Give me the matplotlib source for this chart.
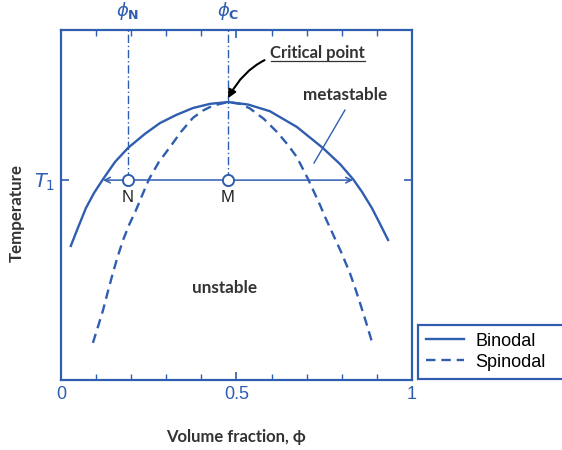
import matplotlib.pyplot as plt
from matplotlib.lines import Line2D

# curves (volume fraction, temperature in axis units 0..1)
binodal_x = [0.028, 0.048, 0.071, 0.094, 0.120, 0.154, 0.191, 0.239, 0.282, 0.328, 0.376,
             0.425, 0.476, 0.533, 0.595, 0.672, 0.746, 0.795, 0.832, 0.858, 0.886, 0.909,
             0.932]
binodal_y = [0.383, 0.434, 0.491, 0.534, 0.574, 0.623, 0.663, 0.703, 0.734, 0.757, 0.777,
             0.789, 0.794, 0.787, 0.768, 0.723, 0.663, 0.617, 0.574, 0.537, 0.491, 0.446,
             0.400]

spinodal_x = [0.091, 0.105, 0.120, 0.134, 0.148, 0.162, 0.177, 0.194, 0.214, 0.231, 0.251,
              0.279, 0.311, 0.342, 0.376, 0.405, 0.433, 0.476, 0.510, 0.538, 0.578, 0.618,
              0.647, 0.672, 0.704, 0.738, 0.755, 0.772, 0.798, 0.823, 0.838, 0.852, 0.869,
              0.886]
spinodal_y = [0.106, 0.151, 0.200, 0.254, 0.306, 0.354, 0.400, 0.443, 0.486, 0.527, 0.574,
              0.623, 0.666, 0.709, 0.749, 0.770, 0.784, 0.794, 0.789, 0.776, 0.746, 0.706,
              0.671, 0.637, 0.574, 0.500, 0.460, 0.423, 0.366, 0.306, 0.263, 0.220, 0.166,
              0.109]

T1 = 0.571
phi_N = 0.191
phi_C = 0.476
bin_left = 0.120    # binodal crossing at T1
bin_right = 0.832
x_ticks = [0, 0.5, 1]
x_ticklabels = ['0', '0.5', '1']

blue = '#2f5db0'
grey = '#333333'
bold_font = 'Lato'

fig = plt.figure(figsize=(5.62, 4.5), dpi=100)
ax = fig.add_axes([0.1085, 0.1556, 0.6245, 0.7778])

ax.plot(binodal_x, binodal_y, color=blue, lw=1.7, label='Binodal', solid_joinstyle='round')
ax.plot(spinodal_x, spinodal_y, color=blue, lw=1.7, ls=(0, (4, 2.5)), label='Spinodal')

# vertical dash-dot guides
ax.plot([phi_N, phi_N], [T1, 1], color=blue, lw=1, ls=(0, (6, 2, 1, 2)), clip_on=False)
ax.plot([phi_C, phi_C], [T1, 1], color=blue, lw=1, ls=(0, (6, 2, 1, 2)), clip_on=False)

# T1 line with arrows to the binodal
ax.plot([phi_N, phi_C], [T1, T1], color=blue, lw=1.1)
ax.annotate('', xy=(bin_left, T1), xytext=(phi_N, T1),
            arrowprops=dict(arrowstyle='->', color=blue, lw=1.1, shrinkA=0, shrinkB=0))
ax.annotate('', xy=(bin_right, T1), xytext=(phi_C, T1),
            arrowprops=dict(arrowstyle='->', color=blue, lw=1.1, shrinkA=0, shrinkB=0))
ax.plot([phi_N, phi_C], [T1, T1], 'o', ms=8, mfc='white', mec=blue, mew=1.4, zorder=5)
ax.text(phi_N, T1 - 0.027, 'N', ha='center', va='top', fontsize=12,
        family='Liberation Sans', color='#222222')
ax.text(phi_C, T1 - 0.027, 'M', ha='center', va='top', fontsize=12,
        family='Liberation Sans', color='#222222')

# labels above the frame
ax.text(phi_N, 1.022, r'$\phi_\mathbf{N}$', ha='center', va='bottom', fontsize=13, color=blue)
ax.text(phi_C, 1.022, r'$\phi_\mathbf{C}$', ha='center', va='bottom', fontsize=13, color=blue)

# critical point annotation
ax.annotate('Critical point', xy=(phi_C, 0.805), xytext=(0.595, 0.934),
            ha='left', va='center', fontsize=12, fontweight='bold', family=bold_font,
            color=grey,
            arrowprops=dict(arrowstyle='-|>', color='black', lw=1.5, shrinkA=2, shrinkB=0,
                            connectionstyle='arc3,rad=0.35', mutation_scale=12))
ax.plot([0.598, 0.866], [0.911, 0.911], color=grey, lw=0.9)

ax.text(0.809, 0.815, 'metastable', ha='center', va='center', fontsize=12.3,
        fontweight='bold', family=bold_font, color=grey)
ax.plot([0.809, 0.721], [0.771, 0.620], color=blue, lw=1)

ax.text(0.467, 0.263, 'unstable', ha='center', va='center', fontsize=12.3,
        fontweight='bold', family=bold_font, color=grey)

ax.set_xlim(0, 1)
ax.set_ylim(0, 1)
ax.set_xticks(x_ticks)
ax.set_xticklabels(x_ticklabels, family='Liberation Sans', fontsize=13, color=blue)
ax.set_xticks([0.1 * i for i in range(1, 10)], minor=True)
ax.set_yticks([T1])
ax.set_yticklabels(['$T_1$'], fontsize=14, color=blue)
ax.tick_params(axis='x', which='both', direction='in', top=True, color=blue, pad=4)
ax.tick_params(axis='x', which='major', length=6, width=1.2)
ax.tick_params(axis='x', which='minor', length=4, width=1)
ax.tick_params(axis='y', direction='in', right=True, color=blue, length=6, width=1.2, pad=4)
for s in ax.spines.values():
    s.set_color(blue)
    s.set_linewidth(1.6)

ax.set_xlabel('Volume fraction, \u03d5', fontsize=12, fontweight='bold', family=bold_font,
              color=grey, labelpad=19)
fig.text(0.030, 0.527, 'Temperature', rotation=90, ha='center', va='center', fontsize=12.2,
         fontweight='bold', family=bold_font, color=grey)

# legend box runs off the right edge, as in the source picture
handles = [Line2D([], [], color=blue, lw=1.7),
           Line2D([], [], color=blue, lw=1.7, ls=(0, (4, 2.5)))]
leg = fig.legend(handles, ['Binodal', 'Spinodal'], loc='lower left', mode='expand',
                 bbox_to_anchor=(0.744, 0.158, 0.30, 0.127), fancybox=False, framealpha=1,
                 edgecolor=blue, prop={'family': 'Liberation Sans', 'size': 13},
                 handlelength=2.1, handletextpad=0.6, borderpad=0.45, labelspacing=0.22,
                 borderaxespad=0)
leg.get_frame().set_linewidth(1.6)

fig.savefig('out.png', dpi=100)
